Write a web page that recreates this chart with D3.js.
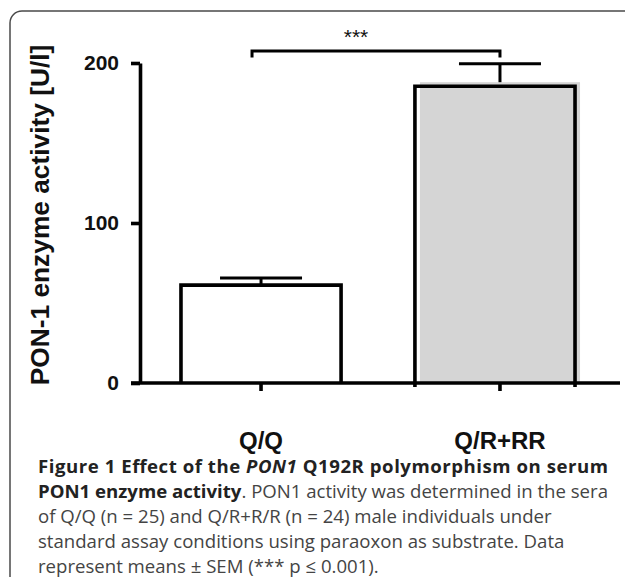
<!DOCTYPE html>
<html>
<head>
<meta charset="utf-8">
<script src="https://cdn.jsdelivr.net/npm/d3@7"></script>
<style>
  html, body { margin: 0; padding: 0; background: #fff; }
  svg { display: block; }
</style>
</head>
<body>
<div id="chart"></div>
<script>
// data
const genotypes = ['Q/Q', 'Q/R+RR']
const means = [61.2, 188]
const sems = [4.4, 11.5]
const yTicks = [0, 100, 200]
const sigLabel = '***'
const yTitle = 'PON-1 enzyme activity [U/l]'

const captionLines = [
  [{t: 'Figure 1 Effect of the ', b: 1}, {t: 'PON1', b: 1, i: 1}, {t: ' Q192R polymorphism on serum', b: 1}],
  [{t: 'PON1 enzyme activity', b: 1}, {t: '. PON1 activity was determined in the sera'}],
  [{t: 'of Q/Q (n = 25) and Q/R+R/R (n = 24) male individuals under'}],
  [{t: 'standard assay conditions using paraoxon as substrate. Data'}],
  [{t: 'represent means \u00b1 SEM (*** p \u2264 0.001).'}]
]

const W = 625, H = 577
const FONT = '"Liberation Sans", Arial, Helvetica, sans-serif'
const STROKE = 3.6

const svg = d3.select('#chart').append('svg')
  .attr('width', W)
  .attr('height', H)

// panel frame, runs off the right and bottom edge
svg.append('rect')
  .attr('x', 10).attr('y', 11)
  .attr('width', W + 20).attr('height', H + 20)
  .attr('rx', 12)
  .attr('fill', 'none')
  .attr('stroke', '#4a4a4a')
  .attr('stroke-width', 1.5)

const x = d3.scaleBand()
  .domain(genotypes)
  .range([140, 621])
  .paddingInner(0.33)
  .paddingOuter(0.1715)

const y = d3.scaleLinear()
  .domain([0, 200])
  .range([383, 63])

const g = svg.append('g')

// bars: first white, second grey with a slightly shifted outline
const bars = g.selectAll('.bar')
  .data(genotypes)
  .enter().append('g')
  .attr('class', 'bar')

bars.filter((d, i) => i === 1).append('rect')
  .attr('x', d => x(d))
  .attr('y', (d, i) => y(means[1]))
  .attr('width', x.bandwidth())
  .attr('height', d => y(0) - y(means[1]))
  .attr('fill', '#d5d5d5')

bars.append('path')
  .attr('fill', 'none')
  .attr('stroke', '#000')
  .attr('stroke-width', STROKE)
  .attr('transform', (d, i) => i === 1 ? 'translate(-5,4)' : null)
  .attr('d', (d, i) => {
    const x0 = x(d), x1 = x(d) + x.bandwidth()
    return `M${x0},${y(0)}V${y(means[i])}H${x1}V${y(0)}`
  })

// error bars (upper only)
const err = g.selectAll('.err')
  .data(genotypes)
  .enter().append('g')
  .attr('class', 'err')
  .attr('stroke', '#000')
  .attr('stroke-width', STROKE - 0.6)

err.append('line')
  .attr('x1', d => x(d) + x.bandwidth() / 2)
  .attr('x2', d => x(d) + x.bandwidth() / 2)
  .attr('y1', (d, i) => y(means[i]))
  .attr('y2', (d, i) => y(means[i] + sems[i]))

err.append('line')
  .attr('x1', d => x(d) + x.bandwidth() / 2 - 41)
  .attr('x2', d => x(d) + x.bandwidth() / 2 + 41)
  .attr('y1', (d, i) => y(means[i] + sems[i]))
  .attr('y2', (d, i) => y(means[i] + sems[i]))

// y axis
const yAxis = g.append('g')
  .attr('transform', `translate(140,0)`)
  .call(d3.axisLeft(y).tickValues(yTicks).tickSize(9).tickSizeOuter(0).tickPadding(12))

yAxis.select('.domain')
  .attr('stroke-width', STROKE)
yAxis.selectAll('.tick line')
  .attr('stroke-width', STROKE)
yAxis.selectAll('.tick text')
  .attr('font-family', FONT)
  .attr('font-weight', 'bold')
  .attr('font-size', '21px')
  .attr('fill', '#111')

// x axis baseline + ticks
const xAxis = g.append('g')
  .attr('transform', `translate(0,${y(0)})`)
  .call(d3.axisBottom(x).tickSize(8).tickSizeOuter(0).tickPadding(41))

xAxis.select('.domain')
  .attr('d', `M131,0H620`)
  .attr('stroke-width', STROKE)
xAxis.selectAll('.tick line')
  .attr('stroke-width', STROKE)
xAxis.selectAll('.tick text')
  .attr('font-family', FONT)
  .attr('font-weight', 'bold')
  .attr('font-size', '24px')
  .attr('fill', '#111')

// y title
svg.append('text')
  .attr('transform', `translate(49,${(y(0) + y(200)) / 2 - 8}) rotate(-90)`)
  .attr('text-anchor', 'middle')
  .attr('font-family', FONT)
  .attr('font-weight', 'bold')
  .attr('font-size', '26.3px')
  .attr('fill', '#111')
  .text(yTitle)

// significance bracket
const left = x(genotypes[0]) + x.bandwidth() / 2 - 9
const right = x(genotypes[1]) + x.bandwidth() / 2
g.append('path')
  .attr('fill', 'none')
  .attr('stroke', '#000')
  .attr('stroke-width', STROKE - 0.6)
  .attr('d', `M${left},${y(203.5)}V${y(207.5)}H${right}V${y(203.5)}`)

g.append('text')
  .attr('x', (left + right) / 2 - 20)
  .attr('y', y(207.5) - 7)
  .attr('text-anchor', 'middle')
  .attr('font-family', FONT)
  .attr('font-size', '21px')
  .attr('fill', '#111')
  .text(sigLabel)

// caption
const cap = svg.append('g')
  .attr('font-family', '"Open Sans", "Noto Sans", sans-serif')
  .attr('font-size', '18.6px')

captionLines.forEach((line, k) => {
  const t = cap.append('text')
    .attr('x', 38)
    .attr('y', 473 + k * 25)
  if (k < 2) t.attr('textLength', 570).attr('lengthAdjust', 'spacing')
  line.forEach(s => {
    t.append('tspan')
      .attr('font-weight', s.b ? 'bold' : 'normal')
      .attr('font-style', s.i ? 'italic' : 'normal')
      .attr('fill', s.b ? '#222' : '#444')
      .text(s.t)
  })
})
</script>
</body>
</html>
